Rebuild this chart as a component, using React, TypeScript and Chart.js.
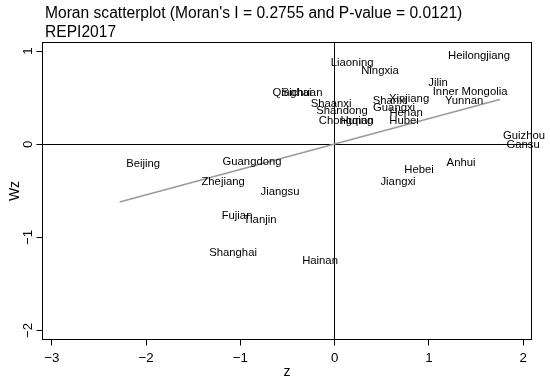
import React, { useEffect, useRef } from "react";
import { Chart, registerables } from "chart.js";

Chart.register(...registerables);

const titleLines = ["Moran scatterplot (Moran's I = 0.2755 and P-value = 0.0121)", "REPI2017"];
const xTitle = "z";
const yTitle = "Wz";
const xTicks = [-3, -2, -1, 0, 1, 2];
const yTicks = [-2, -1, 0, 1];

const provinces = [
  "Heilongjiang", "Liaoning", "Ningxia", "Jilin", "Inner Mongolia", "Yunnan",
  "Qinghai", "Sichuan", "Shaanxi", "Shandong", "Chongqing", "Hunan",
  "Shanxi", "Xinjiang", "Guangxi", "Henan", "Hubei", "Guizhou",
  "Gansu", "Anhui", "Hebei", "Jiangxi", "Beijing", "Guangdong",
  "Zhejiang", "Jiangsu", "Fujian", "Tianjin", "Shanghai", "Hainan",
];
const zValues = [
  1.531, 0.185, 0.481, 1.096, 1.436, 1.372,
  -0.452, -0.346, -0.038, 0.078, 0.121, 0.238,
  0.587, 0.789, 0.630, 0.757, 0.736, 2.008,
  1.998, 1.340, 0.895, 0.672, -2.031, -0.876,
  -1.183, -0.579, -1.035, -0.791, -1.077, -0.155,
];
const wzValues = [
  0.948, 0.873, 0.787, 0.658, 0.562, 0.465,
  0.551, 0.551, 0.433, 0.358, 0.250, 0.250,
  0.465, 0.487, 0.390, 0.336, 0.250, 0.089,
  -0.008, -0.201, -0.276, -0.405, -0.212, -0.190,
  -0.405, -0.512, -0.770, -0.813, -1.167, -1.253,
];
const fitZ = [-2.28, 1.75];
const fitWz = [-0.62, 0.48];

const FONT = '"Liberation Sans", Arial, Helvetica, sans-serif';

const fmt = (v: number) => (v < 0 ? "\u2212" + Math.abs(v) : String(v));
const crisp = (v: number) => Math.floor(v) + 0.5;

const decor = {
  id: "moranDecor",
  beforeDatasetsDraw(chart: any) {
    const { ctx, chartArea: a, scales } = chart;
    const x0 = crisp(scales.x.getPixelForValue(0));
    const y0 = crisp(scales.y.getPixelForValue(0));
    ctx.save();
    ctx.strokeStyle = "#000";
    ctx.lineWidth = 1;
    ctx.beginPath();
    ctx.moveTo(a.left, y0);
    ctx.lineTo(a.right, y0);
    ctx.moveTo(x0, a.top);
    ctx.lineTo(x0, a.bottom);
    ctx.stroke();
    ctx.restore();
  },
  afterDatasetsDraw(chart: any) {
    const { ctx, chartArea: a, scales } = chart;
    const xs = scales.x;
    const ys = scales.y;
    ctx.save();
    // point labels
    ctx.fillStyle = "#000";
    ctx.font = `11.3px ${FONT}`;
    ctx.textAlign = "center";
    ctx.textBaseline = "middle";
    const meta = chart.getDatasetMeta(1);
    meta.data.forEach((pt: any, i: number) => {
      ctx.fillText(provinces[i], pt.x, pt.y);
    });
    // box
    ctx.strokeStyle = "#000";
    ctx.lineWidth = 1;
    ctx.strokeRect(a.left, a.top, a.right - a.left, a.bottom - a.top);
    // ticks
    ctx.font = `13.3px ${FONT}`;
    ctx.textBaseline = "alphabetic";
    ctx.beginPath();
    xs.ticks.forEach((t: any) => {
      const px = crisp(xs.getPixelForValue(t.value));
      ctx.moveTo(px, a.bottom);
      ctx.lineTo(px, a.bottom + 6);
    });
    ys.ticks.forEach((t: any) => {
      const py = crisp(ys.getPixelForValue(t.value));
      ctx.moveTo(a.left, py);
      ctx.lineTo(a.left - 6, py);
    });
    ctx.stroke();
    xs.ticks.forEach((t: any) => {
      const px = xs.getPixelForValue(t.value);
      ctx.fillText(fmt(t.value), px, a.bottom + 22.5);
    });
    ys.ticks.forEach((t: any) => {
      const py = ys.getPixelForValue(t.value);
      ctx.save();
      ctx.translate(a.left - 11, py);
      ctx.rotate(-Math.PI / 2);
      ctx.fillText(fmt(t.value), 0, 0);
      ctx.restore();
    });
    // axis titles
    ctx.font = `14px ${FONT}`;
    ctx.fillText(xTitle, (a.left + a.right) / 2, a.bottom + 36);
    ctx.save();
    ctx.translate(18.5, (a.top + a.bottom) / 2);
    ctx.rotate(-Math.PI / 2);
    ctx.fillText(yTitle, 0, 0);
    ctx.restore();
    // main title
    ctx.font = `15.6px ${FONT}`;
    ctx.textAlign = "left";
    ctx.fillText(titleLines[0], 45, 18.3);
    ctx.fillText(titleLines[1], 45, 37.3);
    ctx.restore();
  },
};

export default function App() {
  const ref = useRef<HTMLCanvasElement | null>(null);
  useEffect(() => {
    if (!ref.current) return;
    const chart = new Chart(ref.current, {
      type: "scatter",
      data: {
        datasets: [
          {
            label: "fit",
            data: fitZ.map((z, i) => ({ x: z, y: fitWz[i] })),
            showLine: true,
            borderColor: "#9a9a9a",
            borderWidth: 1.5,
            pointRadius: 0,
            fill: false,
          },
          {
            label: "provinces",
            data: zValues.map((z, i) => ({ x: z, y: wzValues[i] })),
            pointRadius: 0,
            showLine: false,
          },
        ],
      },
      options: {
        responsive: false,
        animation: false,
        events: [],
        layout: { padding: { left: 42.5, right: 18.5, top: 42.5, bottom: 40.5 } },
        plugins: { legend: { display: false }, tooltip: { enabled: false }, title: { display: false } },
        scales: {
          x: {
            type: "linear",
            display: false,
            min: -3.0976,
            max: 2.087,
            afterBuildTicks: (s: any) => { s.ticks = xTicks.map((v) => ({ value: v })); },
          },
          y: {
            type: "linear",
            display: false,
            min: -2.097,
            max: 1.093,
            afterBuildTicks: (s: any) => { s.ticks = yTicks.map((v) => ({ value: v })); },
          },
        },
      },
      plugins: [decor],
    });
    return () => chart.destroy();
  }, []);
  return (
    <div style={{ position: "absolute", left: 0, top: 0, width: 550, height: 380, background: "#fff" }}>
      <canvas ref={ref} width={550} height={380} style={{ display: "block", width: 550, height: 380 }} />
    </div>
  );
}
